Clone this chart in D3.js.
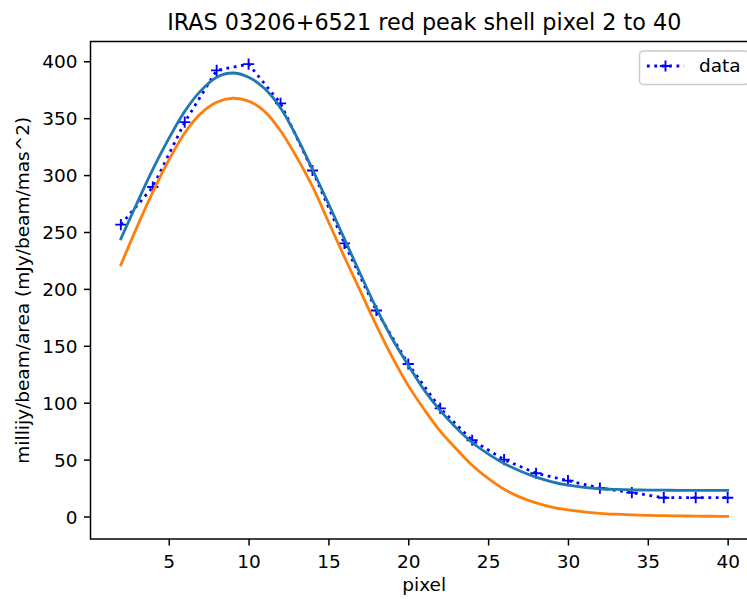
<!DOCTYPE html>
<html>
<head>
<meta charset="utf-8">
<script src="https://cdn.jsdelivr.net/npm/d3@7"></script>
<style>
  html, body { margin: 0; padding: 0; background: #fff; }
  svg { display: block; }
  text { font-family: "DejaVu Sans", sans-serif; fill: #000; }
</style>
</head>
<body>
<div id="chart"></div>
<script>
// ---- data ----
const title = "IRAS 03206+6521 red peak shell pixel 2 to 40";
const xLabel = "pixel";
const yLabel = "millijy/beam/area (mJy/beam/mas^2)";
const legendLabel = "data";

const dataX = [2, 4, 6, 8, 10, 12, 14, 16, 18, 20, 22, 24, 26, 28, 30, 32, 34, 36, 38, 40];
const dataY = [256.5, 289.5, 346.5, 392, 397.5, 363, 304, 240, 181, 134, 95, 67, 50, 38, 31.5, 25, 21, 16.5, 16.5, 16.5];

const fitX = [2, 3, 4, 5, 6, 7, 8, 9, 10, 11, 12, 13, 14, 15, 16, 17, 18, 19, 20, 21,
              22, 23, 24, 25, 26, 27, 28, 29, 30, 31, 32, 33, 34, 35, 36, 37, 38, 39, 40];
const fitTotal = [244, 275, 305, 332, 356, 374, 386, 389.7, 386, 376, 359, 334, 305, 275, 244, 213, 183, 156, 133, 111,
                  93, 78, 65, 55, 46.5, 40, 34.6, 30.5, 27.5, 25.6, 24.4, 23.8, 23.4, 23.2, 23.1, 23, 23, 23, 23];
const fitPeak = [221, 254, 285, 313, 337, 354, 364, 367.5, 365, 356, 339, 316, 290, 259, 228, 198, 168, 140, 115, 94,
                 75, 59.5, 45, 33.5, 24, 17, 12, 8.3, 5.8, 4, 2.8, 2, 1.4, 1, 0.7, 0.5, 0.3, 0.2, 0.1];

const xTicks = [5, 10, 15, 20, 25, 30, 35, 40];
const yTicks = [0, 50, 100, 150, 200, 250, 300, 350, 400];

// ---- layout ----
const W = 747, H = 599;
const plot = { left: 90.5, right: 758, top: 41.5, bottom: 539 };
const fontTick = 18.5, fontTitle = 22.3;
const tickLen = 6.5, tickPad = 6.5;

const svg = d3.select("#chart").append("svg").attr("width", W).attr("height", H);

// matplotlib-like 5% margins
function padded(ext) { const r = ext[1] - ext[0]; return [ext[0] - 0.05 * r, ext[1] + 0.05 * r]; }
const xExt = padded(d3.extent(dataX.concat(fitX)));
const yExt = padded(d3.extent(dataY.concat(fitTotal, fitPeak)));

const x = d3.scaleLinear().domain(xExt).range([plot.left, plot.right]);
const y = d3.scaleLinear().domain(yExt).range([plot.bottom, plot.top]);

// clip
svg.append("defs").append("clipPath").attr("id", "clip")
  .append("rect").attr("x", plot.left).attr("y", plot.top)
  .attr("width", plot.right - plot.left).attr("height", plot.bottom - plot.top);

const g = svg.append("g").attr("clip-path", "url(#clip)");

// data line (dotted) + markers
const lineData = d3.line().x((d, i) => x(dataX[i])).y(d => y(d));
g.append("path").datum(dataY).attr("d", lineData)
  .attr("fill", "none").attr("stroke", "#0000ff").attr("stroke-width", 2.8)
  .attr("stroke-dasharray", "2.8,4.6").attr("stroke-linecap", "butt");

const ms = 5.6;
g.selectAll("path.mk").data(dataY).enter().append("path").attr("class", "mk")
  .attr("d", `M${-ms},0H${ms}M0,${-ms}V${ms}`)
  .attr("transform", (d, i) => `translate(${x(dataX[i])},${y(d)})`)
  .attr("stroke", "#0000ff").attr("stroke-width", 1.9).attr("fill", "none");

// fitted curves
const lineFit = d3.line().x((d, i) => x(fitX[i])).y(d => y(d)).curve(d3.curveCatmullRom.alpha(0.5));
g.append("path").datum(fitTotal).attr("d", lineFit)
  .attr("fill", "none").attr("stroke", "#1f77b4").attr("stroke-width", 2.8).attr("stroke-linecap", "square");
g.append("path").datum(fitPeak).attr("d", lineFit)
  .attr("fill", "none").attr("stroke", "#ff7f0e").attr("stroke-width", 2.8).attr("stroke-linecap", "square");

// axes
const xAxis = d3.axisBottom(x).tickValues(xTicks).tickSize(tickLen).tickPadding(tickPad).tickSizeOuter(0);
const yAxis = d3.axisLeft(y).tickValues(yTicks).tickSize(tickLen).tickPadding(tickPad).tickSizeOuter(0);

const gx = svg.append("g").attr("transform", `translate(0,${plot.bottom})`).call(xAxis);
const gy = svg.append("g").attr("transform", `translate(${plot.left},0)`).call(yAxis);
[gx, gy].forEach(a => {
  a.select(".domain").remove();
  a.selectAll(".tick line").attr("stroke", "#000").attr("stroke-width", 1.5);
  a.selectAll(".tick text").attr("font-size", fontTick).attr("font-family", "DejaVu Sans").attr("fill", "#000");
});
gx.selectAll(".tick text").attr("dy", null).attr("y", null)
  .attr("transform", `translate(0,${567.5 - plot.bottom})`);
gy.selectAll(".tick text").attr("dy", "0.36em");

// spines
svg.append("rect").attr("x", plot.left).attr("y", plot.top)
  .attr("width", plot.right - plot.left).attr("height", plot.bottom - plot.top)
  .attr("fill", "none").attr("stroke", "#000").attr("stroke-width", 1.5);

// title and labels
svg.append("text").attr("x", (plot.left + plot.right) / 2).attr("y", 29.5)
  .attr("text-anchor", "middle").attr("font-size", fontTitle).text(title);
svg.append("text").attr("x", (plot.left + plot.right) / 2).attr("y", 591)
  .attr("text-anchor", "middle").attr("font-size", fontTick).text(xLabel);
svg.append("text").attr("transform", `translate(29,${(plot.top + plot.bottom) / 2}) rotate(-90)`)
  .attr("text-anchor", "middle").attr("font-size", fontTick).text(yLabel);

// legend
const legX = 639.5, legY = 51, legW = 109, legH = 33.5;
const leg = svg.append("g");
leg.append("rect").attr("x", legX).attr("y", legY).attr("width", legW).attr("height", legH)
  .attr("rx", 3.7).attr("ry", 3.7)
  .attr("fill", "#fff").attr("fill-opacity", 0.8).attr("stroke", "#cccccc").attr("stroke-width", 1.5);
const hx0 = legX + 7.4, hx1 = hx0 + 37.2, hy = 66;
leg.append("line").attr("x1", hx0).attr("x2", hx1).attr("y1", hy).attr("y2", hy)
  .attr("stroke", "#0000ff").attr("stroke-width", 2.8).attr("stroke-dasharray", "2.8,4.6");
leg.append("path").attr("d", `M${-ms},0H${ms}M0,${-ms}V${ms}`)
  .attr("transform", `translate(${(hx0 + hx1) / 2},${hy})`)
  .attr("stroke", "#0000ff").attr("stroke-width", 1.9).attr("fill", "none");
leg.append("text").attr("x", hx1 + 14.9).attr("y", 72).attr("font-size", fontTick).text(legendLabel);
</script>
</body>
</html>
